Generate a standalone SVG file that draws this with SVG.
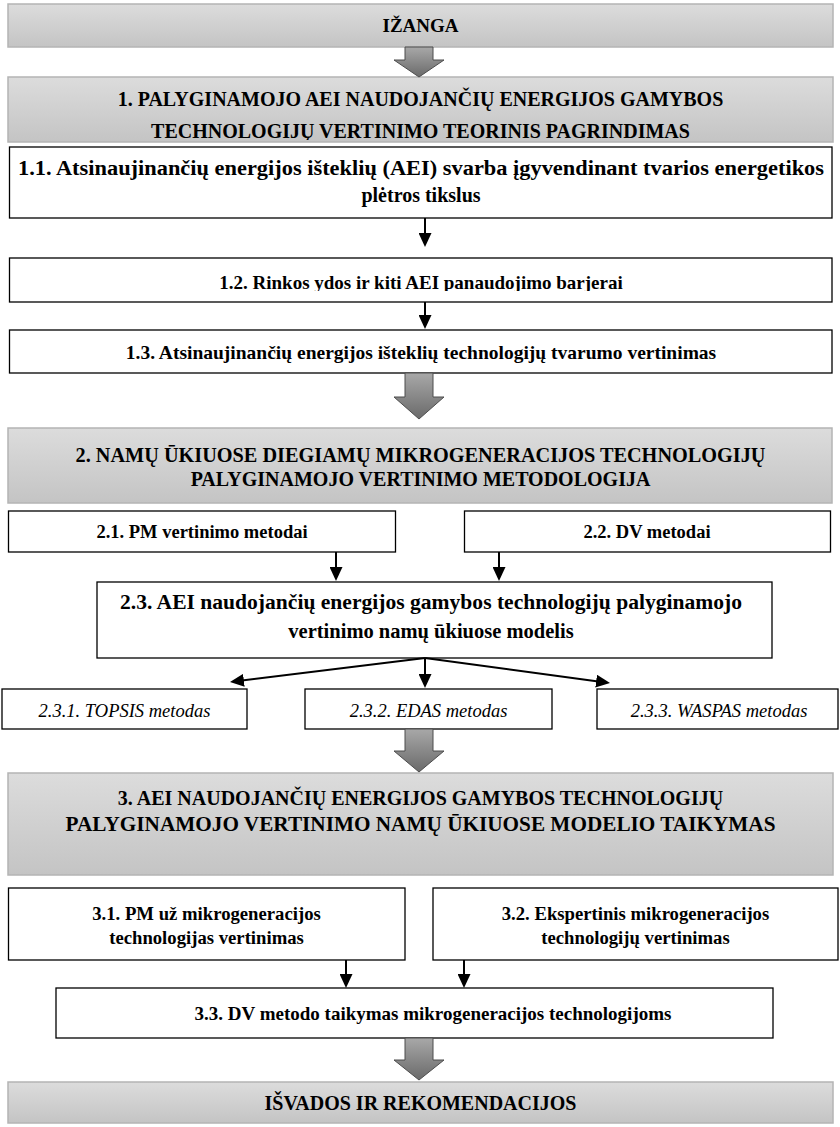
<svg xmlns="http://www.w3.org/2000/svg" width="840" height="1127" viewBox="0 0 840 1127">
<style>
.g{fill:url(#gg);stroke:#b4b4b4;stroke-width:1.5}
.w{fill:#fff;stroke:#000;stroke-width:1.3}
.t{font-family:"Liberation Serif","Times New Roman",serif;font-weight:bold;font-size:19.5px;text-anchor:middle;fill:#000}
.h{font-size:20px}
.s{font-size:18.5px}
.i{font-family:"Liberation Serif","Times New Roman",serif;font-style:italic;font-size:18.5px;text-anchor:middle;fill:#000}
.ba{fill:url(#ag);stroke:#4d4d4d;stroke-width:1}
.c{stroke:#000;stroke-width:2;fill:none;marker-end:url(#ah)}
</style>
<defs>
<linearGradient id="gg" x1="0" y1="0" x2="0" y2="1">
<stop offset="0" stop-color="#dcdcdc"/>
<stop offset="1" stop-color="#c4c4c4"/>
</linearGradient>
<linearGradient id="ag" x1="0" y1="0" x2="0" y2="1">
<stop offset="0" stop-color="#a8a8a8"/>
<stop offset="1" stop-color="#6a6a6a"/>
</linearGradient>
<marker id="ah" markerUnits="userSpaceOnUse" markerWidth="14" markerHeight="13" viewBox="0 0 14 13" refX="4" refY="6.5" orient="auto">
<path d="M0,0 L14,6.5 L0,13 z" fill="#000"/>
</marker>
<clipPath id="clip1"><rect x="0" y="77" width="840" height="63"/></clipPath>
<clipPath id="clip12"><rect x="0" y="258" width="840" height="33"/></clipPath>
</defs>

<g id="izanga">
<rect class="g" x="8" y="4" width="825" height="43"/>
<text class="t" x="420.5" y="32" style="font-size:19px">IŽANGA</text>
</g>

<g id="sec1">
<rect class="g" x="8" y="77" width="825" height="65"/>
<g clip-path="url(#clip1)">
<text class="t h" x="420.5" y="106">1. PALYGINAMOJO AEI NAUDOJANČIŲ ENERGIJOS GAMYBOS</text>
<text class="t h" x="420.5" y="138">TECHNOLOGIJŲ VERTINIMO TEORINIS PAGRINDIMAS</text>
</g>
</g>

<g id="n11">
<rect class="w" x="9.5" y="147" width="822.5" height="71"/>
<text class="t h" x="421" y="175" textLength="806" lengthAdjust="spacingAndGlyphs">1.1. Atsinaujinančių energijos išteklių (AEI) svarba įgyvendinant tvarios energetikos</text>
<text class="t h" x="421" y="202">plėtros tikslus</text>
</g>

<g id="n12">
<rect class="w" x="9.5" y="258" width="822.5" height="44"/>
<text class="t" x="421" y="289" clip-path="url(#clip12)" style="font-size:19px">1.2. Rinkos ydos ir kiti AEI panaudojimo barjerai</text>
</g>

<g id="n13">
<rect class="w" x="9.5" y="330" width="822.5" height="43"/>
<text class="t" x="421" y="359">1.3. Atsinaujinančių energijos išteklių technologijų tvarumo vertinimas</text>
</g>

<g id="sec2">
<rect class="g" x="8" y="428" width="824" height="75"/>
<text class="t h" x="420.5" y="462" textLength="690" lengthAdjust="spacingAndGlyphs">2. NAMŲ ŪKIUOSE DIEGIAMŲ MIKROGENERACIJOS TECHNOLOGIJŲ</text>
<text class="t h" x="420.5" y="486">PALYGINAMOJO VERTINIMO METODOLOGIJA</text>
</g>

<g id="n21">
<rect class="w" x="8.5" y="511" width="387" height="41"/>
<text class="t s" x="202" y="538">2.1. PM vertinimo metodai</text>
</g>

<g id="n22">
<rect class="w" x="464.5" y="511" width="366" height="41"/>
<text class="t s" x="647" y="538">2.2. DV metodai</text>
</g>

<g id="n23">
<rect class="w" x="97" y="582" width="675" height="76"/>
<text class="t h" x="431" y="609" textLength="622" lengthAdjust="spacingAndGlyphs">2.3. AEI naudojančių energijos gamybos technologijų palyginamojo</text>
<text class="t" x="431" y="638" style="font-size:20.5px">vertinimo namų ūkiuose modelis</text>
</g>

<g id="n231">
<rect class="w" x="2" y="689" width="245" height="40"/>
<text class="i" x="124.5" y="717">2.3.1. TOPSIS metodas</text>
</g>

<g id="n232">
<rect class="w" x="305" y="689" width="247" height="40"/>
<text class="i" x="428.5" y="717">2.3.2. EDAS metodas</text>
</g>

<g id="n233">
<rect class="w" x="597" y="689" width="241" height="40"/>
<text class="i" x="719" y="717">2.3.3. WASPAS metodas</text>
</g>

<g id="sec3">
<rect class="g" x="8" y="773" width="825" height="102"/>
<text class="t h" x="420.5" y="805">3. AEI NAUDOJANČIŲ ENERGIJOS GAMYBOS TECHNOLOGIJŲ</text>
<text class="t h" x="420.5" y="831" textLength="710" lengthAdjust="spacingAndGlyphs">PALYGINAMOJO VERTINIMO NAMŲ ŪKIUOSE MODELIO TAIKYMAS</text>
</g>

<g id="n31">
<rect class="w" x="8.5" y="888" width="396.5" height="72"/>
<text class="t" x="206.5" y="920" style="font-size:18.7px">3.1. PM už mikrogeneracijos</text>
<text class="t" x="206.5" y="944" style="font-size:18.7px">technologijas vertinimas</text>
</g>

<g id="n32">
<rect class="w" x="433" y="888" width="405" height="72"/>
<text class="t" x="635.5" y="920" style="font-size:18.7px">3.2. Ekspertinis mikrogeneracijos</text>
<text class="t" x="635.5" y="944" style="font-size:18.7px">technologijų vertinimas</text>
</g>

<g id="n33">
<rect class="w" x="56" y="988" width="717" height="50"/>
<text class="t" x="433" y="1020" style="font-size:19px">3.3. DV metodo taikymas mikrogeneracijos technologijoms</text>
</g>

<g id="isvados">
<rect class="g" x="8" y="1082" width="825" height="41"/>
<text class="t h" x="420.5" y="1110">IŠVADOS IR REKOMENDACIJOS</text>
</g>

<g id="connectors">
<polygon class="ba" points="405,47 433,47 433,60 444,60 419,77 394,60 405,60"/>
<polygon class="ba" points="405,373 433,373 433,397 444,397 419,419 394,397 405,397"/>
<polygon class="ba" points="405,729 433,729 433,751 444,751 419,772 394,751 405,751"/>
<polygon class="ba" points="405,1038 433,1038 433,1060 444,1060 419,1080 394,1060 405,1060"/>
<line class="c" x1="425" y1="218" x2="425" y2="237"/>
<line class="c" x1="425" y1="302" x2="425" y2="319"/>
<line class="c" x1="336" y1="552" x2="336" y2="571"/>
<line class="c" x1="499" y1="552" x2="499" y2="571"/>
<line class="c" x1="425" y1="658" x2="239.9" y2="680.8"/>
<line class="c" x1="425" y1="658" x2="425" y2="678"/>
<line class="c" x1="425" y1="658" x2="600.1" y2="681.7"/>
<line class="c" x1="346" y1="960" x2="346" y2="978"/>
<line class="c" x1="464" y1="960" x2="464" y2="978"/>
</g>
</svg>
